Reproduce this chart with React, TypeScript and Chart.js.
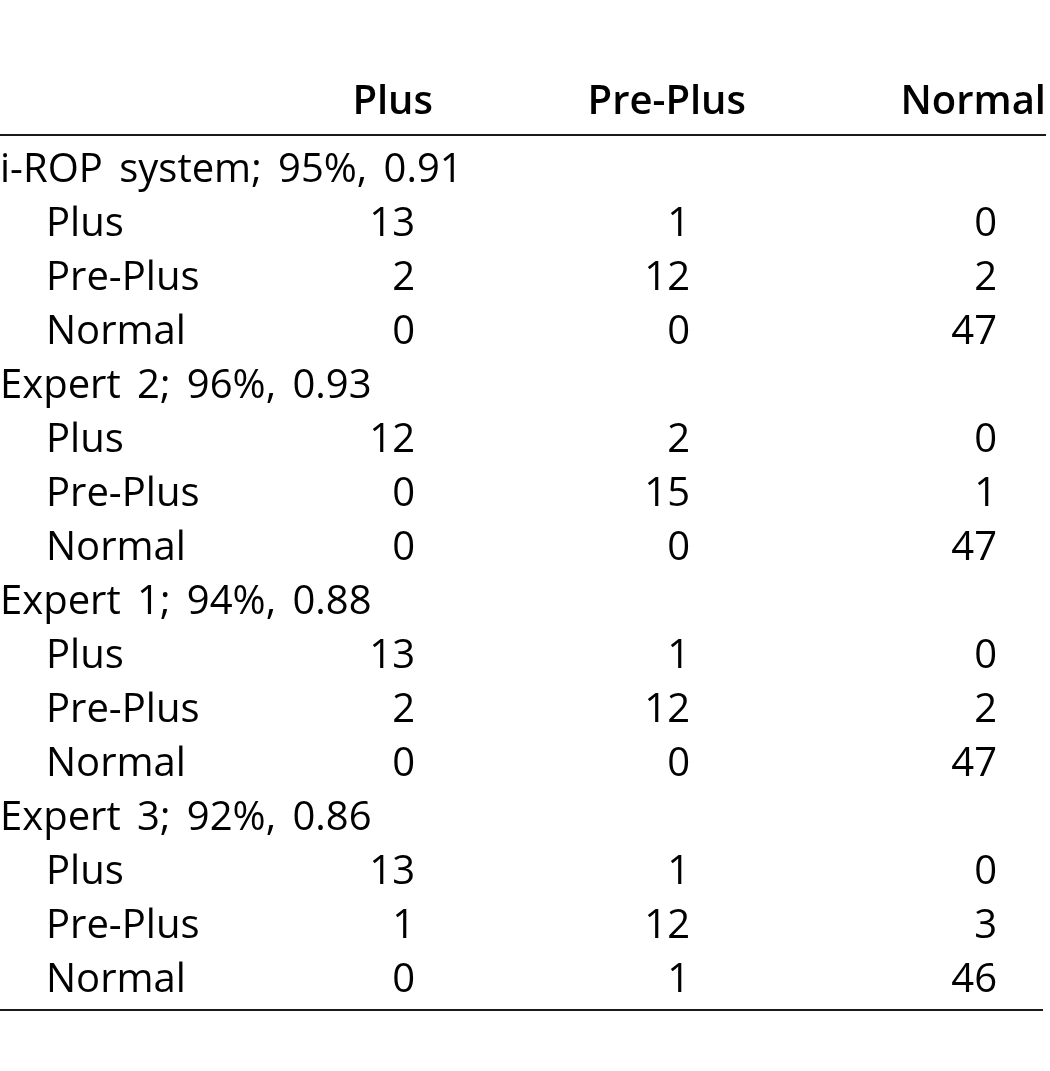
import React, { useEffect, useRef } from "react";
import { Chart, registerables } from "chart.js";

Chart.register(...registerables);

// ---- data ----
const columnHeaders = ["Plus", "Pre-Plus", "Normal"];
const groupTitles = [
  "i-ROP system; 95%, 0.91",
  "Expert 2; 96%, 0.93",
  "Expert 1; 94%, 0.88",
  "Expert 3; 92%, 0.86",
];
const classLabels = ["Plus", "Pre-Plus", "Normal"];
const iropSystem = [
  [13, 1, 0],
  [2, 12, 2],
  [0, 0, 47],
];
const expert2 = [
  [12, 2, 0],
  [0, 15, 1],
  [0, 0, 47],
];
const expert1 = [
  [13, 1, 0],
  [2, 12, 2],
  [0, 0, 47],
];
const expert3 = [
  [13, 1, 0],
  [1, 12, 3],
  [0, 1, 46],
];
const groupValues = [iropSystem, expert2, expert1, expert3];

// ---- style ----
const FONT = "'Open Sans', 'Noto Sans', sans-serif";
const FONT_SIZE = 40;
const HEADER_SIZE = 40;
const LABEL_KEY = "Label";
const headerOffsets = [83, 46, -4];
const valueOffsets = [65, -10, -53];
const indent = 46;

type Row = { text: string; isTitle: boolean };

export default function App() {
  const ref = useRef<HTMLCanvasElement | null>(null);

  useEffect(() => {
    document.body.style.margin = "0";
    const canvas = ref.current;
    if (!canvas) return;

    const rows: Row[] = [];
    groupTitles.forEach((t) => {
      rows.push({ text: t, isTitle: true });
      classLabels.forEach((c) => rows.push({ text: c, isTitle: false }));
    });

    const labelDataset: any = {
      label: "labels",
      data: rows.map((_, i) => ({ x: LABEL_KEY, y: i })),
      texts: rows.map((r) => r.text),
      titles: rows.map((r) => r.isTitle),
      colIndex: -1,
      pointRadius: 0,
    };

    const valueDatasets: any[] = columnHeaders.map((h, c) => {
      const data: any[] = [];
      const texts: string[] = [];
      groupValues.forEach((gv, g) => {
        gv.forEach((rowVals, r) => {
          data.push({ x: h, y: g * 4 + 1 + r });
          texts.push(String(rowVals[c]));
        });
      });
      return { label: h, data, texts, colIndex: c, pointRadius: 0 };
    });

    const tablePlugin = {
      id: "tablePlugin",
      afterDatasetsDraw(chart: any) {
        const ctx = chart.ctx as CanvasRenderingContext2D & { wordSpacing?: string };
        const area = chart.chartArea;
        const xs = chart.scales.x;
        ctx.save();
        ctx.fillStyle = "#000";
        ctx.textBaseline = "middle";

        // header
        ctx.font = `600 ${HEADER_SIZE}px ${FONT}`;
        ctx.textAlign = "right";
        columnHeaders.forEach((h, c) => {
          const px = xs.getPixelForValue(c + 1) + headerOffsets[c];
          ctx.fillText(h, px, area.top - 41);
        });

        // cells
        ctx.font = `400 ${FONT_SIZE}px ${FONT}`;
        chart.data.datasets.forEach((ds: any, di: number) => {
          const meta = chart.getDatasetMeta(di);
          meta.data.forEach((pt: any, j: number) => {
            const text = ds.texts[j];
            if (ds.colIndex < 0) {
              ctx.textAlign = "left";
              const isTitle = ds.titles[j];
              ctx.wordSpacing = isTitle ? "6px" : "0px";
              ctx.fillText(text, pt.x + (isTitle ? 0 : indent), pt.y);
              ctx.wordSpacing = "0px";
            } else {
              ctx.textAlign = "right";
              ctx.fillText(text, pt.x + valueOffsets[ds.colIndex], pt.y);
            }
          });
        });

        // rules
        ctx.strokeStyle = "#1a1a1a";
        ctx.lineWidth = 2;
        ctx.beginPath();
        ctx.moveTo(area.left, area.top - 9);
        ctx.lineTo(area.right - 4, area.top - 9);
        ctx.moveTo(area.left, area.bottom + 2);
        ctx.lineTo(area.right - 7, area.bottom + 2);
        ctx.stroke();
        ctx.restore();
      },
    };

    const chart = new Chart(canvas, {
      type: "scatter",
      data: {
        labels: [LABEL_KEY, ...columnHeaders],
        datasets: [labelDataset, ...valueDatasets],
      },
      options: {
        animation: false,
        responsive: false,
        events: [],
        layout: { padding: { top: 144, bottom: 63, left: 0, right: 0 } },
        plugins: { legend: { display: false }, tooltip: { enabled: false } },
        scales: {
          x: {
            type: "category",
            labels: [LABEL_KEY, ...columnHeaders],
            offset: false,
            display: false,
          },
          y: {
            type: "linear",
            reverse: true,
            min: -0.5,
            max: 15.5,
            display: false,
          },
        },
      } as any,
      plugins: [tablePlugin],
    });

    return () => chart.destroy();
  }, []);

  return (
    <div style={{ width: 1050, height: 1071, background: "#fff" }}>
      <canvas ref={ref} width={1050} height={1071} />
    </div>
  );
}
